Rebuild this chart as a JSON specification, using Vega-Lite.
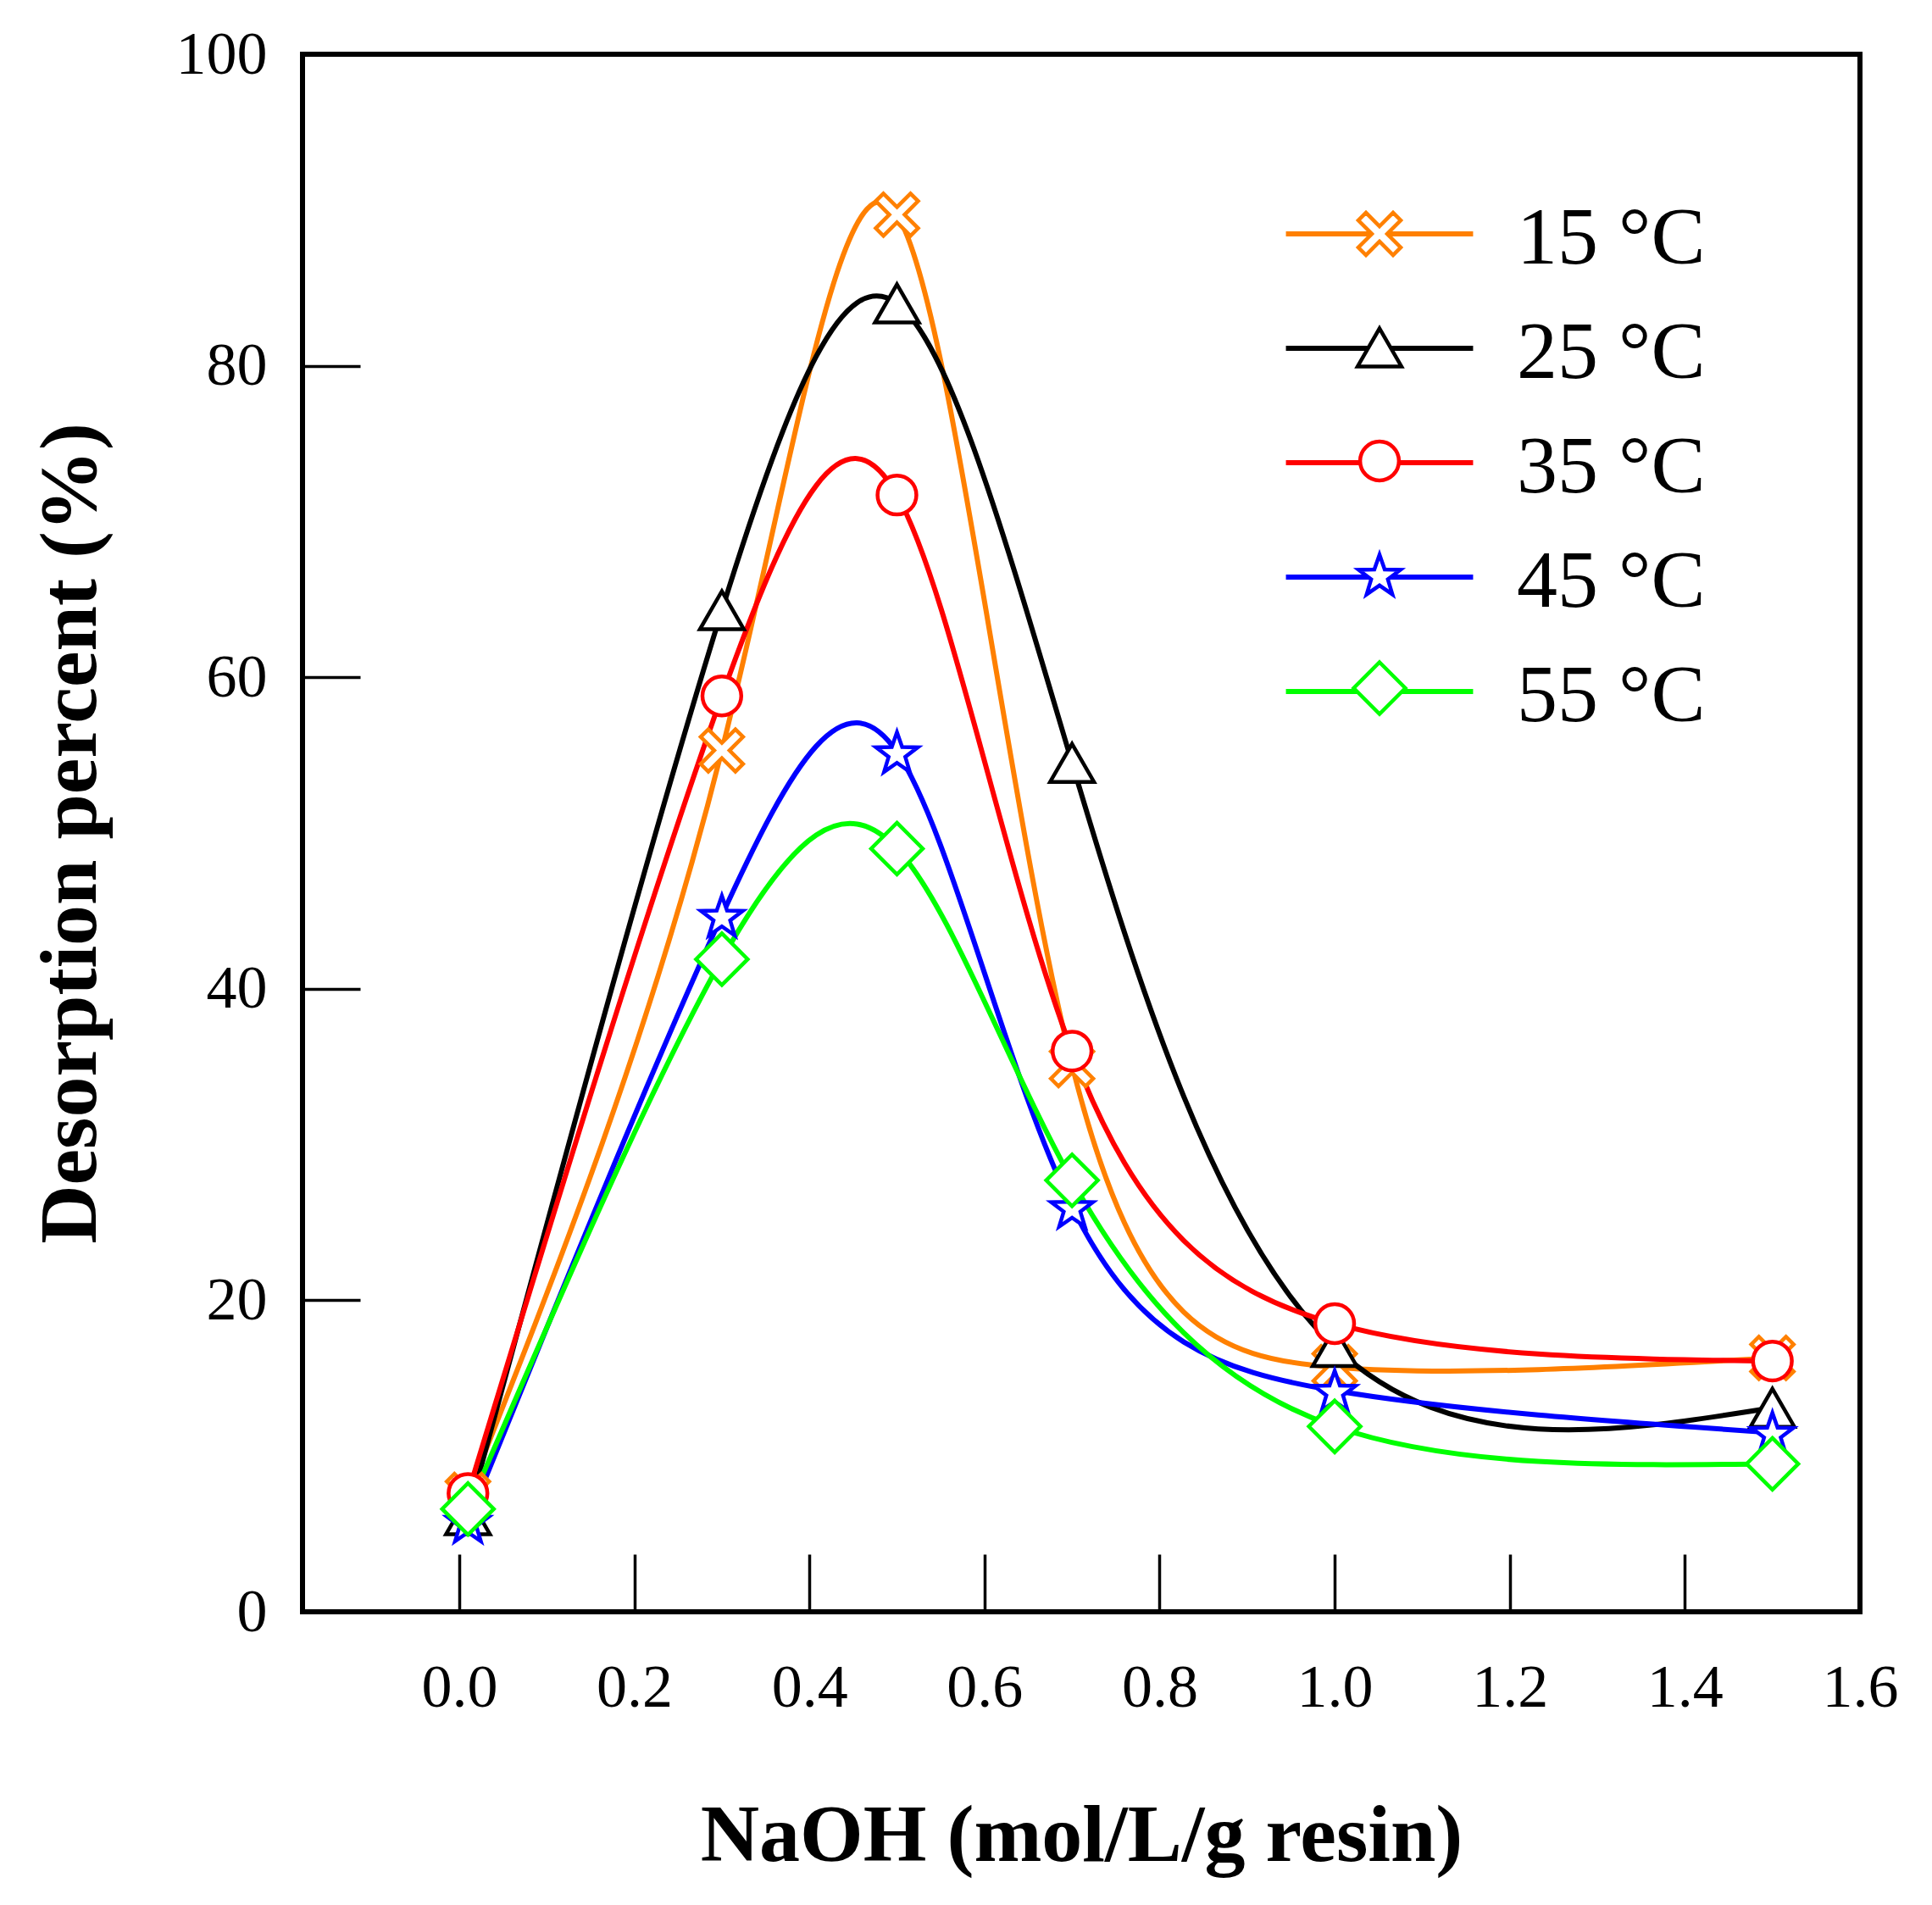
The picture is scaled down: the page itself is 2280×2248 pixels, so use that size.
{
  "$schema": "https://vega.github.io/schema/vega-lite/v6.json",
  "width": 1838,
  "height": 1838,
  "autosize": "none",
  "padding": {"left": 357, "top": 64, "right": 85, "bottom": 346},
  "background": "white",
  "config": {
    "view": {"stroke": "black", "strokeWidth": 6},
    "font": "Liberation Serif",
    "axis": {"grid": false, "domain": false, "tickColor": "black", "tickWidth": 3.5, "labelColor": "black", "titleColor": "black", "labelFont": "Liberation Serif", "titleFont": "Liberation Serif"}
  },
  "data": {
    "values": [
      {"NaOH": 0.01, "desorption": 7.5, "temp": "15 °C"},
      {"NaOH": 0.3, "desorption": 55.3, "temp": "15 °C"},
      {"NaOH": 0.5, "desorption": 89.7, "temp": "15 °C"},
      {"NaOH": 0.7, "desorption": 35.1, "temp": "15 °C"},
      {"NaOH": 1.0, "desorption": 15.7, "temp": "15 °C"},
      {"NaOH": 1.5, "desorption": 16.3, "temp": "15 °C"},
      {"NaOH": 0.01, "desorption": 6.2, "temp": "25 °C"},
      {"NaOH": 0.3, "desorption": 64.3, "temp": "25 °C"},
      {"NaOH": 0.5, "desorption": 84.0, "temp": "25 °C"},
      {"NaOH": 0.7, "desorption": 54.5, "temp": "25 °C"},
      {"NaOH": 1.0, "desorption": 17.0, "temp": "25 °C"},
      {"NaOH": 1.5, "desorption": 13.1, "temp": "25 °C"},
      {"NaOH": 0.01, "desorption": 7.6, "temp": "35 °C"},
      {"NaOH": 0.3, "desorption": 58.8, "temp": "35 °C"},
      {"NaOH": 0.5, "desorption": 71.7, "temp": "35 °C"},
      {"NaOH": 0.7, "desorption": 36.0, "temp": "35 °C"},
      {"NaOH": 1.0, "desorption": 18.5, "temp": "35 °C"},
      {"NaOH": 1.5, "desorption": 16.1, "temp": "35 °C"},
      {"NaOH": 0.01, "desorption": 5.8, "temp": "45 °C"},
      {"NaOH": 0.3, "desorption": 44.7, "temp": "45 °C"},
      {"NaOH": 0.5, "desorption": 55.2, "temp": "45 °C"},
      {"NaOH": 0.7, "desorption": 26.0, "temp": "45 °C"},
      {"NaOH": 1.0, "desorption": 14.2, "temp": "45 °C"},
      {"NaOH": 1.5, "desorption": 11.5, "temp": "45 °C"},
      {"NaOH": 0.01, "desorption": 6.6, "temp": "55 °C"},
      {"NaOH": 0.3, "desorption": 41.9, "temp": "55 °C"},
      {"NaOH": 0.5, "desorption": 49.0, "temp": "55 °C"},
      {"NaOH": 0.7, "desorption": 27.7, "temp": "55 °C"},
      {"NaOH": 1.0, "desorption": 11.9, "temp": "55 °C"},
      {"NaOH": 1.5, "desorption": 9.5, "temp": "55 °C"}
    ]
  },
  "encoding": {
    "x": {
      "field": "NaOH",
      "type": "quantitative",
      "scale": {"domain": [-0.179, 1.6], "nice": false, "zero": false},
      "axis": {
        "values": [0, 0.2, 0.4, 0.6, 0.8, 1.0, 1.2, 1.4, 1.6],
        "format": ".1f",
        "tickSize": -68,
        "labelFontSize": 72,
        "labelPadding": 122,
        "labelFlush": false,
        "labelOverlap": false,
        "labelBound": false,
        "title": "NaOH (mol/L/g resin)",
        "titleFontSize": 96,
        "titleFontWeight": "bold",
        "titleBaseline": "alphabetic",
        "titleY": 293
      }
    },
    "y": {
      "field": "desorption",
      "type": "quantitative",
      "scale": {"domain": [0, 100], "nice": false},
      "axis": {
        "values": [0, 20, 40, 60, 80, 100],
        "tickSize": -68,
        "labelFontSize": 72,
        "labelPadding": 110,
        "labelFlush": false,
        "labelOverlap": false,
        "labelBound": false,
        "title": "Desorption percent (%)",
        "titleFontSize": 96,
        "titleFontWeight": "bold",
        "titleAngle": 270,
        "titleBaseline": "alphabetic",
        "titleAlign": "center",
        "titleX": -245,
        "titleY": 919
      }
    }
  },
  "layer": [
    {
      "mark": {"type": "line", "interpolate": "natural", "strokeWidth": 6},
      "encoding": {
        "color": {
          "field": "temp",
          "type": "nominal",
          "scale": {
            "domain": ["15 °C", "25 °C", "35 °C", "45 °C", "55 °C"],
            "range": ["#FF8000", "#000000", "#FF0000", "#0000FF", "#00FF00"]
          },
          "legend": {
            "orient": "none",
            "legendX": 1223,
            "legendY": 164,
            "title": null,
            "padding": 0,
            "symbolType": "M-4.82,0H4.82",
            "symbolSize": 2100,
            "symbolStrokeWidth": 6,
            "labelFont": "Liberation Serif",
            "labelFontSize": 96,
            "labelColor": "black",
            "labelOffset": 114,
            "labelLimit": 0,
            "rowPadding": 33,
            "encode": {"labels": {"update": {"dy": {"value": 6}}}}
          }
        }
      }
    },
    {
      "mark": {"type": "point", "filled": false, "fill": "white", "fillOpacity": 1, "opacity": 1, "size": 2100, "strokeWidth": 4.5},
      "encoding": {
        "stroke": {
          "field": "temp",
          "type": "nominal",
          "scale": {"range": ["#FF8000", "#000000", "#FF0000", "#0000FF", "#00FF00"]},
          "legend": {
            "orient": "none",
            "legendX": 1223,
            "legendY": 164,
            "title": null,
            "padding": 0,
            "symbolSize": 2100,
            "symbolStrokeWidth": 4.5,
            "symbolFillColor": "white",
            "labelFontSize": 96,
            "labelOpacity": 0,
            "labelLimit": 0,
            "rowPadding": 38,
            "encode": {"symbols": {"update": {"fill": {"value": "white"}, "fillOpacity": {"value": 1}}}}
          }
        },
        "shape": {
          "field": "temp",
          "type": "nominal",
          "scale": {
            "range": [
              "M0,-0.393L0.698,-1.091L1.091,-0.698L0.393,0L1.091,0.698L0.698,1.091L0,0.393L-0.698,1.091L-1.091,0.698L-0.393,0L-1.091,-0.698L-0.698,-1.091Z",
              "M0,-0.98L1.13,0.98L-1.13,0.98Z",
              "circle",
              "M0,-1.022L0.266,-0.258L1.075,-0.241L0.429,0.248L0.664,1.022L0,0.56L-0.664,1.022L-0.429,0.248L-1.075,-0.241L-0.266,-0.258Z",
              "M0,-1.33L1.33,0L0,1.33L-1.33,0Z"
            ]
          },
          "legend": {
            "orient": "none",
            "legendX": 1223,
            "legendY": 164,
            "title": null,
            "padding": 0,
            "symbolSize": 2100,
            "symbolStrokeWidth": 4.5,
            "symbolFillColor": "white",
            "labelFontSize": 96,
            "labelOpacity": 0,
            "labelLimit": 0,
            "rowPadding": 38,
            "encode": {"symbols": {"update": {"fill": {"value": "white"}, "fillOpacity": {"value": 1}}}}
          }
        }
      }
    }
  ]
}
